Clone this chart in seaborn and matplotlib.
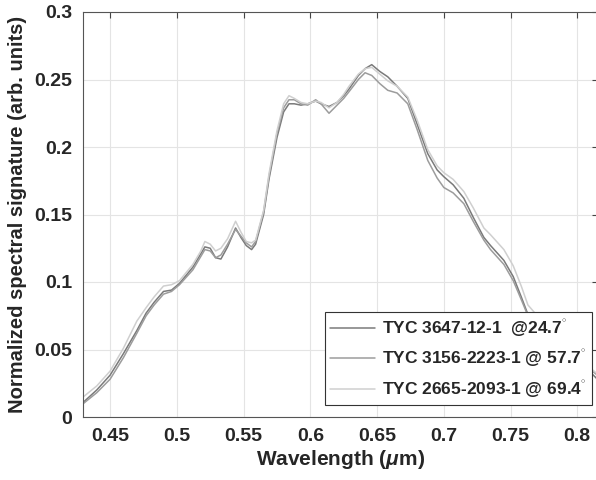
import seaborn as sns
import matplotlib.pyplot as plt
import pandas as pd

wavelength = [0.430, 0.440, 0.450, 0.460, 0.470, 0.477, 0.483, 0.490, 0.496, 0.502,
              0.512, 0.518, 0.521, 0.525, 0.529, 0.533, 0.538, 0.544, 0.548, 0.552,
              0.556, 0.559, 0.565, 0.569, 0.575, 0.580, 0.584, 0.588, 0.593, 0.598,
              0.604, 0.608, 0.614, 0.620, 0.625, 0.629, 0.636, 0.641, 0.646, 0.652,
              0.658, 0.665, 0.673, 0.680, 0.688, 0.695, 0.700, 0.707, 0.715, 0.722,
              0.730, 0.735, 0.745, 0.752, 0.758, 0.763, 0.770, 0.778, 0.786, 0.795,
              0.803, 0.810, 0.815]

tyc_3647 = [0.011, 0.020, 0.031, 0.047, 0.064, 0.077, 0.085, 0.093, 0.094, 0.099,
            0.111, 0.121, 0.126, 0.125, 0.118, 0.117, 0.126, 0.140, 0.133, 0.127,
            0.124, 0.128, 0.150, 0.176, 0.207, 0.226, 0.232, 0.232, 0.231, 0.232,
            0.234, 0.232, 0.230, 0.233, 0.238, 0.243, 0.253, 0.258, 0.261, 0.256,
            0.252, 0.245, 0.236, 0.217, 0.195, 0.183, 0.178, 0.172, 0.162, 0.148,
            0.133, 0.127, 0.116, 0.104, 0.089, 0.076, 0.065, 0.056, 0.050, 0.045,
            0.039, 0.033, 0.028]

tyc_3156 = [0.010, 0.018, 0.028, 0.044, 0.062, 0.075, 0.083, 0.091, 0.093, 0.098,
            0.109, 0.119, 0.124, 0.123, 0.118, 0.120, 0.128, 0.139, 0.134, 0.129,
            0.126, 0.130, 0.152, 0.178, 0.210, 0.229, 0.235, 0.235, 0.232, 0.231,
            0.235, 0.232, 0.225, 0.231, 0.236, 0.241, 0.250, 0.255, 0.253, 0.247,
            0.242, 0.240, 0.232, 0.213, 0.190, 0.177, 0.170, 0.166, 0.158, 0.145,
            0.131, 0.124, 0.113, 0.101, 0.087, 0.075, 0.064, 0.055, 0.049, 0.044,
            0.040, 0.035, 0.031]

tyc_2665 = [0.015, 0.023, 0.034, 0.051, 0.071, 0.081, 0.089, 0.097, 0.098, 0.101,
            0.113, 0.123, 0.130, 0.128, 0.123, 0.125, 0.132, 0.145, 0.137, 0.130,
            0.129, 0.131, 0.153, 0.180, 0.212, 0.232, 0.238, 0.236, 0.233, 0.232,
            0.234, 0.233, 0.229, 0.233, 0.239, 0.245, 0.254, 0.258, 0.259, 0.254,
            0.249, 0.245, 0.237, 0.220, 0.198, 0.186, 0.181, 0.176, 0.167, 0.155,
            0.140, 0.135, 0.124, 0.112, 0.097, 0.083, 0.075, 0.066, 0.058, 0.050,
            0.042, 0.036, 0.032]

labels = [r"TYC 3647-12-1  @24.7$^{^{\circ}}$",
          r"TYC 3156-2223-1 @ 57.7$^{^{\circ}}$",
          r"TYC 2665-2093-1 @ 69.4$^{^{\circ}}$"]
colors = ["#7a7a7a", "#9c9c9c", "#cfcfcf"]

df = pd.concat([
    pd.DataFrame({"wl": wavelength, "sig": s, "star": lab})
    for s, lab in zip([tyc_3647, tyc_3156, tyc_2665], labels)
])

sns.set_style("white")
plt.rcParams["font.family"] = ["Liberation Sans", "DejaVu Sans"]
plt.rcParams["font.weight"] = "bold"
plt.rcParams["mathtext.fontset"] = "custom"
plt.rcParams["mathtext.it"] = "Liberation Sans:italic:bold"
plt.rcParams["mathtext.rm"] = "Liberation Sans:bold"

fig = plt.figure(figsize=(5.96, 4.80), dpi=100)
ax = fig.add_axes([83 / 596, 63 / 480, 515 / 596, 405 / 480])

sns.lineplot(data=df, x="wl", y="sig", hue="star", palette=dict(zip(labels, colors)),
             linewidth=1.1, ax=ax, sort=False)

ax.set_xlim(0.4297, 0.8155)
ax.set_ylim(0, 0.3)
ax.set_xticks([0.45, 0.5, 0.55, 0.6, 0.65, 0.7, 0.75, 0.8])
ax.set_xticklabels(["0.45", "0.5", "0.55", "0.6", "0.65", "0.7", "0.75", "0.8"])
ax.set_yticks([0, 0.05, 0.1, 0.15, 0.2, 0.25, 0.3])
ax.set_yticklabels(["0", "0.05", "0.1", "0.15", "0.2", "0.25", "0.3"])
ax.grid(True, color="#e4e4e4", linewidth=0.8)
ax.set_axisbelow(True)
ax.tick_params(direction="in", length=4, width=0.8, color="#444444",
               top=True, right=True, labelsize=14, pad=8)
for sp in ax.spines.values():
    sp.set_color("#555555")
    sp.set_linewidth(0.8)

ax.set_xlabel(r"Wavelength ($\mu$m)", fontsize=15, fontweight="bold", labelpad=2)
ax.set_ylabel("Normalized spectral signature (arb. units)", fontsize=14.5,
              fontweight="bold", labelpad=5)

leg = ax.legend(loc="lower right", bbox_to_anchor=(0.988, 0.03), fontsize=12.5,
                handlelength=2.6, frameon=True, fancybox=False, framealpha=1,
                borderpad=0.3, labelspacing=0.5, handletextpad=0.4,
                borderaxespad=0)
leg.get_frame().set_edgecolor("#333333")
leg.get_frame().set_linewidth(0.8)
for t in leg.get_texts():
    t.set_fontweight("bold")

fig.savefig("out.png", dpi=100)
